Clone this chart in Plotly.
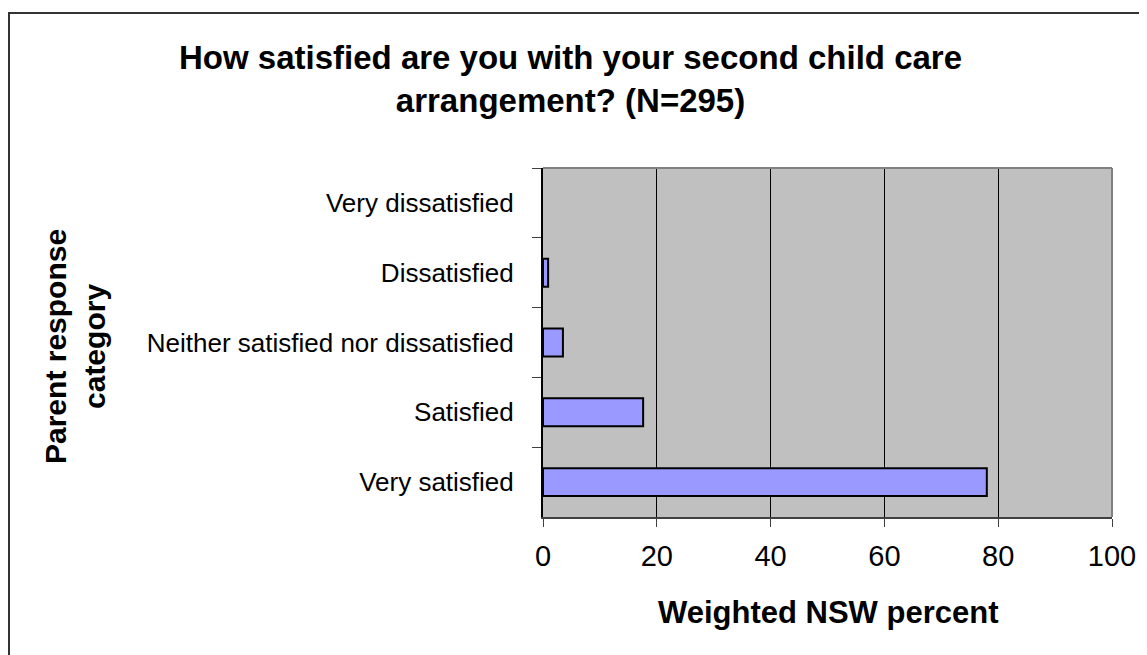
import plotly.graph_objects as go

categories = ["Very dissatisfied", "Dissatisfied", "Neither satisfied nor dissatisfied",
              "Satisfied", "Very satisfied"]
values = [0.0, 0.9, 3.5, 17.6, 78.0]
x_ticks = [0, 20, 40, 60, 80, 100]

title_text = "How satisfied are you with your second child care<br>arrangement? (N=295)"
x_title = "Weighted NSW percent"
y_title = "Parent response<br>category"

FONT = "Liberation Sans, Arial, sans-serif"

fig = go.Figure(go.Bar(
    x=values, y=categories, orientation="h",
    marker=dict(color="#9999FF",
                line=dict(color="black", width=[0 if v == 0 else 2 for v in values])),
    width=0.4,
))

OFF = 8  # page offset of the figure (body margin)
W, H = 1147, 655
L = 543 - OFF
T = 168 - OFF
R = W - (1112 - OFF)
B = H - (517 - OFF)
pw, ph = W - L - R, H - T - B

def px(x):
    return (x - OFF - L) / pw

def py(y):
    return (H - B - (y - OFF)) / ph

fig.update_layout(
    width=W, height=H,
    margin=dict(l=L, r=R, t=T, b=B),
    paper_bgcolor="white",
    plot_bgcolor="#C0C0C0",
    showlegend=False,
    font=dict(family=FONT, color="black"),
    xaxis=dict(
        range=[0, 100], tickvals=x_ticks, ticktext=[str(v) for v in x_ticks],
        showgrid=True, gridcolor="black", gridwidth=1,
        showline=True, linecolor="#404040", linewidth=2,
        ticks="outside", ticklen=8, tickcolor="#404040", tickwidth=1,
        tickfont=dict(size=29, family=FONT),
        ticklabelstandoff=4,
        zeroline=False,
    ),
    yaxis=dict(
        type="category", categoryorder="array", categoryarray=categories,
        autorange="reversed",
        showgrid=False, showline=True, linecolor="black", linewidth=2,
        ticks="outside", tickson="boundaries", ticklen=9, tickcolor="#404040",
        tickfont=dict(size=26, family=FONT),
        ticklabelstandoff=22,
        zeroline=False,
    ),
    shapes=[
        dict(type="line", xref="paper", yref="paper", x0=0, x1=1, y0=1, y1=1,
             line=dict(color="#808080", width=2)),
        dict(type="line", xref="paper", yref="paper", x0=1, x1=1, y0=0, y1=1,
             line=dict(color="#808080", width=2)),
        dict(type="rect", xref="paper", yref="paper",
             x0=px(9), x1=px(1170), y0=py(680), y1=py(13),
             line=dict(color="#333333", width=2), fillcolor="rgba(0,0,0,0)"),
    ],
    annotations=[
        dict(text="<b>" + title_text + "</b>", xref="paper", yref="paper",
             x=px(570), y=py(79), xanchor="center", yanchor="middle",
             showarrow=False, font=dict(size=33, family=FONT), align="center"),
        dict(text="<b>" + y_title + "</b>", xref="paper", yref="paper",
             x=px(75), y=py(347), xanchor="center", yanchor="middle",
             textangle=-90, showarrow=False, font=dict(size=30, family=FONT),
             align="center"),
        dict(text="<b>" + x_title + "</b>", xref="paper", yref="paper",
             x=0.5, y=py(612), xanchor="center", yanchor="middle",
             showarrow=False, font=dict(size=31, family=FONT)),
    ],
)

fig.write_html("out.html")
